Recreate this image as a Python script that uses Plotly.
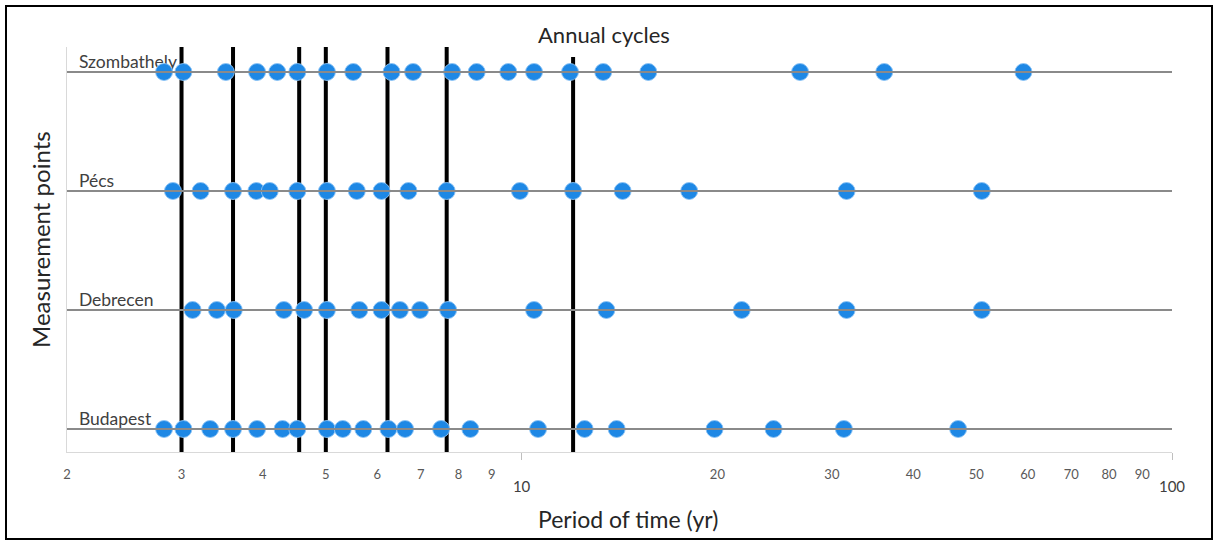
import math
import plotly.graph_objects as go

# Measurement stations and their row positions on the vertical axis
stations = ["Budapest", "Debrecen", "Pécs", "Szombathely"]
row_pos = [1, 2, 3, 4]

# Detected cycle periods (years) at each station
budapest = [2.82, 3.02, 3.32, 3.60, 3.92, 4.29, 4.52, 5.02, 5.31, 5.71, 6.24,
            6.62, 7.52, 8.34, 10.6, 12.5, 14.0, 19.8, 24.4, 31.3, 46.9]
debrecen = [3.12, 3.40, 3.61, 4.31, 4.63, 5.02, 5.63, 6.09, 6.50, 6.98, 7.71,
            10.45, 13.5, 21.8, 31.6, 51.0]
pecs = [2.91, 3.21, 3.60, 3.91, 4.10, 4.52, 5.02, 5.58, 6.09, 6.70, 7.67,
        9.94, 12.0, 14.3, 18.1, 31.6, 51.0]
szombathely = [2.82, 3.02, 3.51, 3.92, 4.21, 4.52, 5.02, 5.51, 6.31, 6.81,
               7.82, 8.53, 9.54, 10.45, 11.87, 13.35, 15.66, 26.8, 36.1, 59.1]
periods = [budapest, debrecen, pecs, szombathely]

# Common cycles marked across all stations
cycle_marks = [3.0, 3.6, 4.55, 5.0, 6.22, 7.67, 12.0]
cycle_tops = [4.21, 4.21, 4.21, 4.21, 4.21, 4.21, 4.126]

# Axis tick labels
minor_ticks = [2, 3, 4, 5, 6, 7, 8, 9, 20, 30, 40, 50, 60, 70, 80, 90]
decade_ticks = [10, 100]
x_min, x_max = 2, 100
label_x = 2.086

FONT = "Lato, 'Open Sans', sans-serif"
BLUE = "#1E88E5"

fig = go.Figure()

# Station baselines
for pos in row_pos:
    fig.add_trace(go.Scatter(
        x=[x_min, x_max], y=[pos, pos], mode="lines",
        line=dict(color="#8a8a8a", width=2), hoverinfo="skip",
        showlegend=False, xaxis="x2", yaxis="y"))

# Station names sitting on their baselines
fig.add_trace(go.Scatter(
    x=[label_x] * len(stations), y=row_pos, mode="text", text=stations,
    textposition="top right",
    textfont=dict(family=FONT, size=17.5, color="#404040"),
    hoverinfo="skip", showlegend=False))

# Vertical cycle markers
y_bottom = 0.7
for xv, top in zip(cycle_marks, cycle_tops):
    fig.add_trace(go.Scatter(
        x=[xv, xv], y=[y_bottom, top], mode="lines",
        line=dict(color="black", width=4), hoverinfo="skip",
        showlegend=False))

# Period points per station
for name, pos, vals in zip(stations, row_pos, periods):
    fig.add_trace(go.Scatter(
        x=vals, y=[pos] * len(vals), mode="markers", name=name,
        marker=dict(color=BLUE, size=17,
                    line=dict(color="rgba(140,195,245,0.9)", width=1)),
        showlegend=False))

left, right, top, bottom = 67, 47, 47, 90
W, H = 1219, 542
pw, ph = W - left - right, H - top - bottom

def px(xp):
    return (xp - left) / pw

def py(yp):
    return (H - bottom - yp) / ph

fig.update_layout(
    width=W, height=H,
    margin=dict(l=left, r=right, t=top, b=bottom),
    paper_bgcolor="white", plot_bgcolor="white",
    font=dict(family=FONT),
    xaxis=dict(
        type="log", range=[math.log10(x_min), math.log10(x_max)],
        tickvals=minor_ticks, ticktext=[str(v) for v in minor_ticks],
        tickfont=dict(size=13, color="#595959"),
        showgrid=False, zeroline=False, showline=True,
        linecolor="#d9d9d9", linewidth=1, ticks="",
        ticklabelstandoff=10),
    xaxis2=dict(
        type="log", range=[math.log10(x_min), math.log10(x_max)],
        overlaying="x", anchor="y", side="bottom",
        tickvals=decade_ticks, ticktext=[str(v) for v in decade_ticks],
        tickfont=dict(size=15, color="#404040"),
        showgrid=False, zeroline=False, showline=False,
        ticks="outside", ticklen=7, tickcolor="#bfbfbf", tickwidth=1,
        ticklabelstandoff=14),
    yaxis=dict(
        range=[1 - 23 / 119, 4 + 25 / 119],
        showticklabels=False, showgrid=False, zeroline=False,
        showline=True, linecolor="#d9d9d9", linewidth=1, ticks=""),
    shapes=[dict(type="rect", xref="paper", yref="paper",
                 x0=px(6), x1=px(1212), y0=py(539), y1=py(6),
                 line=dict(color="black", width=2), layer="below")],
    annotations=[
        dict(text="Annual cycles", xref="paper", yref="paper",
             x=px(604), y=py(35), showarrow=False,
             font=dict(size=22, color="#262626"),
             xanchor="center", yanchor="middle"),
        dict(text="Period of time (yr)", xref="paper", yref="paper",
             x=px(628), y=py(519), showarrow=False,
             font=dict(size=23, color="#262626"),
             xanchor="center", yanchor="middle"),
        dict(text="Measurement points", xref="paper", yref="paper",
             x=px(40), y=py(240), showarrow=False, textangle=-90,
             font=dict(size=24, color="#262626"),
             xanchor="center", yanchor="middle"),
    ],
)

fig.write_html("out.html")
